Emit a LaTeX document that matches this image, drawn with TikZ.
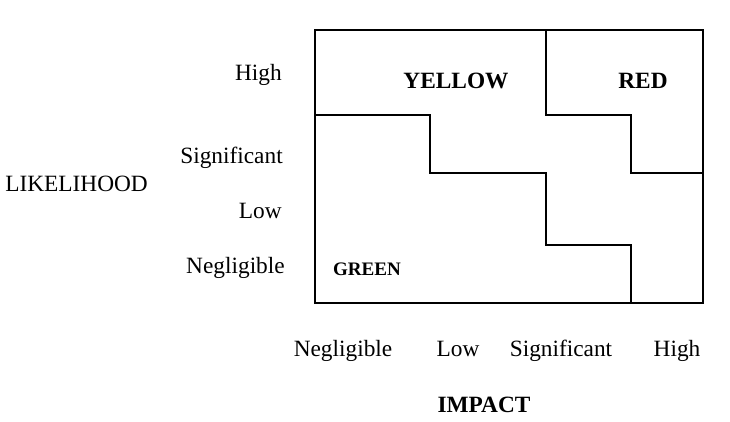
\documentclass[tikz,border=0pt]{standalone}
\usepackage{fontspec}
\setmainfont{Liberation Serif}
\usepackage{xcolor}
\usepackage{tikz}
\definecolor{RMLine}{HTML}{000000}
\definecolor{RMText}{HTML}{000000}
\tikzset{
  axislbl/.style={font=\fontsize{17.5}{20}\selectfont,text=RMText,inner sep=0pt},
  zonelbl/.style={font=\fontsize{17.5}{20}\selectfont\bfseries,text=RMText,inner sep=0pt},
}

\begin{document}
\begin{tikzpicture}[x=0.75pt,y=-0.75pt]
\path[use as bounding box] (0,0) rectangle (730,421);
\draw[RMLine,line width=.9pt] (315,30) rectangle (703,303);
% green / yellow boundary
\draw[RMLine,line width=.9pt] (315,115) -- (430,115) -- (430,173) -- (546,173) -- (546,245) -- (631,245) -- (631,303);
% yellow / red boundary
\draw[RMLine,line width=.9pt] (546,29) -- (546,115) -- (631,115) -- (631,173) -- (703,173);
\node[zonelbl,anchor=base] (yellow) at (456,88) {YELLOW};
\node[zonelbl,anchor=base] (red) at (643,88) {RED};
\node[zonelbl,font=\fontsize{14.3}{17}\selectfont\bfseries,anchor=base] (green) at (367,275) {GREEN};
\node[axislbl,anchor=base east] (lhigh) at (282,80.5) {High};
\node[axislbl,anchor=base east] (lsig) at (283,163) {Significant};
\node[axislbl,anchor=base east] (llow) at (282,218) {Low};
\node[axislbl,anchor=base east] (lneg) at (285,273) {Negligible};
\node[axislbl,anchor=base west] (likelihood) at (5,191) {LIKELIHOOD};
\node[axislbl,anchor=base] (ineg) at (343,356) {Negligible};
\node[axislbl,anchor=base] (ilow) at (458,356) {Low};
\node[axislbl,anchor=base] (isig) at (561,356) {Significant};
\node[axislbl,anchor=base] (ihigh) at (677,356) {High};
\node[zonelbl,anchor=base] (impact) at (484,412) {IMPACT};
\end{tikzpicture}
\end{document}
